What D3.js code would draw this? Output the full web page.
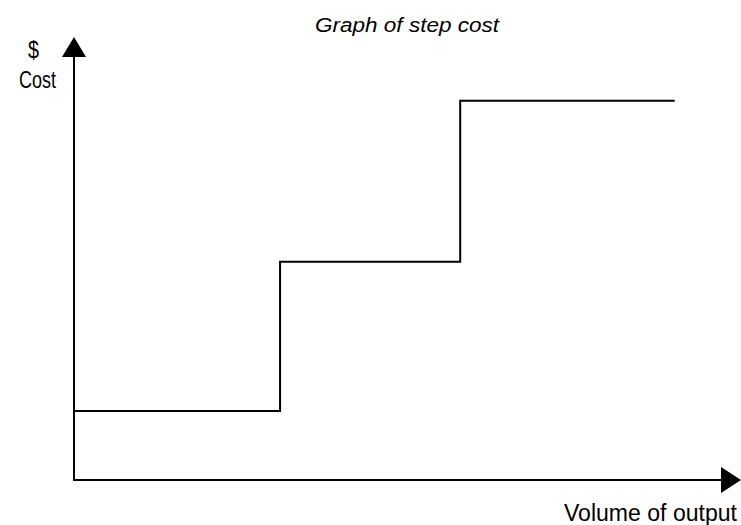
<!DOCTYPE html>
<html>
<head>
<meta charset="utf-8">
<script src="https://cdn.jsdelivr.net/npm/d3@7"></script>
<style>
  html, body { margin: 0; padding: 0; background: #fff; }
  text { font-family: "Liberation Sans", Arial, "DejaVu Sans", sans-serif; fill: #000; }
</style>
</head>
<body>
<svg id="chart" width="741" height="525"></svg>
<script>
// Data
const volumeBreaks = [0, 31.8, 59.6, 92.7];   // volume of output where each level starts (last = end)
const costLevels = [15.7, 49.6, 86.2, 86.2];   // cost level
const titleText = "Graph of step cost";
const yLabel1 = "$";
const yLabel2 = "Cost";
const xLabel = "Volume of output";

const svg = d3.select("#chart");
const x = d3.scaleLinear().domain([0, 100]).range([74, 722]);
const y = d3.scaleLinear().domain([0, 100]).range([480, 40]);

// Axes
const x0 = x(0), y0 = y(0);
svg.append("line").attr("x1", x0).attr("y1", y0 + 1).attr("x2", x0).attr("y2", 56)
  .attr("stroke", "#000").attr("stroke-width", 2);
svg.append("path").attr("d", `M${x0},37 L${x0 - 12},57 L${x0 + 12},57 Z`).attr("fill", "#000");
svg.append("line").attr("x1", x0 - 1).attr("y1", y0).attr("x2", 722).attr("y2", y0)
  .attr("stroke", "#000").attr("stroke-width", 2);
svg.append("path").attr("d", `M741,${y0} L721,${y0 - 13} L721,${y0 + 13} Z`).attr("fill", "#000");

// Step line
const pts = volumeBreaks.map((v, i) => [v, costLevels[i]]);
const line = d3.line().x(d => x(d[0])).y(d => y(d[1])).curve(d3.curveStepAfter);
svg.append("path").datum(pts).attr("d", line)
  .attr("fill", "none").attr("stroke", "#000").attr("stroke-width", 2);

// Text
svg.append("text").attr("x", 315).attr("y", 32)
  .attr("textLength", 184).attr("lengthAdjust", "spacingAndGlyphs")
  .style("font-style", "italic").style("font-size", "20px").text(titleText);
svg.append("text").attr("x", 28).attr("y", 58)
  .attr("textLength", 11).attr("lengthAdjust", "spacingAndGlyphs")
  .style("font-size", "23px").text(yLabel1);
svg.append("text").attr("x", 19).attr("y", 88)
  .attr("textLength", 37).attr("lengthAdjust", "spacingAndGlyphs")
  .style("font-size", "23px").text(yLabel2);
svg.append("text").attr("x", 564).attr("y", 521)
  .attr("textLength", 173).attr("lengthAdjust", "spacingAndGlyphs")
  .style("font-size", "23px").text(xLabel);
</script>
</body>
</html>
